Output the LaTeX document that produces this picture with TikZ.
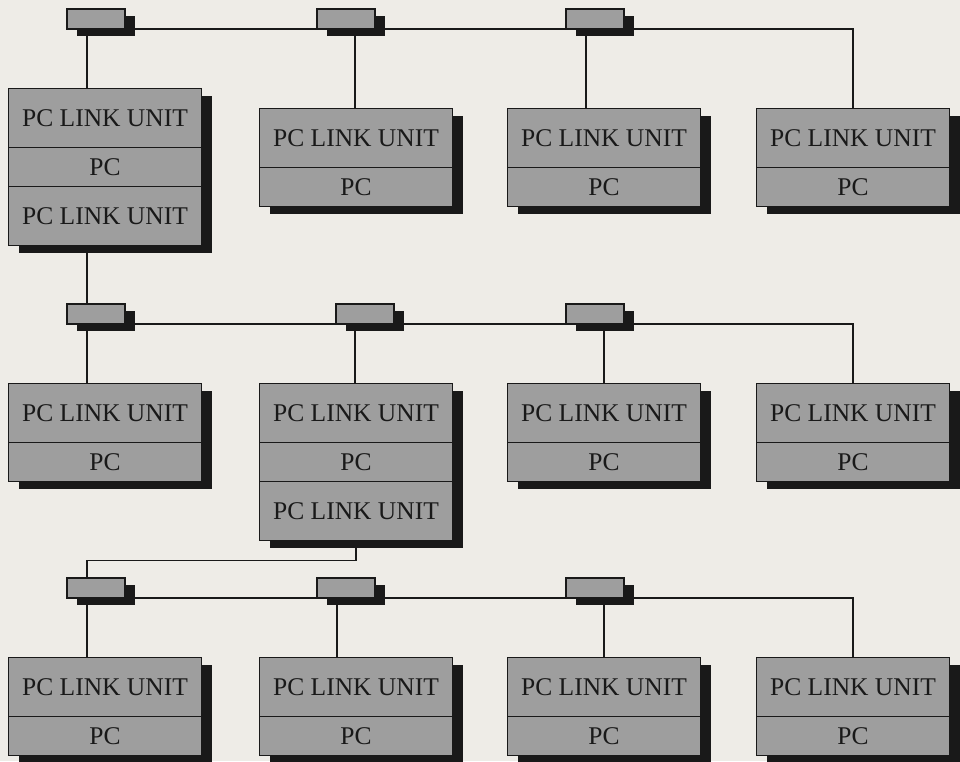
\documentclass[tikz,border=0pt]{standalone}
\usepackage{fontspec}
\setmainfont{Liberation Serif}
\usepackage{tikz}
\usetikzlibrary{positioning,shadows}

\definecolor{paper}{RGB}{238,236,231}
\definecolor{unitgray}{RGB}{158,158,158}

\begin{document}
\begin{tikzpicture}[
  x=1pt, y=-1pt,
  every node/.style={font=\fontsize{25.5}{28}\selectfont, text=black!90},
  linkpart/.style={
    rectangle, draw=black!90, fill=unitgray, line width=1.8pt,
    minimum width=193pt, minimum height=59pt, inner sep=0pt, outer sep=0pt,
    drop shadow={shadow xshift=10pt, shadow yshift=-7pt, fill=black!90, opacity=1}
  },
  pcpart/.style={
    linkpart, minimum height=39pt
  },
  tapbox/.style={
    rectangle, draw=black!90, fill=unitgray, line width=1.8pt,
    minimum width=58pt, minimum height=20pt, inner sep=0pt, outer sep=0pt,
    drop shadow={shadow xshift=10pt, shadow yshift=-7pt, fill=black!90, opacity=1}
  },
  bus/.style={line width=1.9pt, black!90},
]

% --- Paper ---
\fill[paper] (0,0) rectangle (960,761);
\useasboundingbox (0,0) rectangle (960,761);

% --- Row 1 ---
\node[linkpart] (b11t) at (105,118) {PC LINK UNIT};
\node[pcpart, below=0pt of b11t] (b11p) {PC};
\node[linkpart, below=0pt of b11p] (b11b) {PC LINK UNIT};

\node[linkpart] (b12t) at (356,138) {PC LINK UNIT};
\node[pcpart, below=0pt of b12t] (b12p) {PC};

\node[linkpart] (b13t) at (604,138) {PC LINK UNIT};
\node[pcpart, below=0pt of b13t] (b13p) {PC};

\node[linkpart] (b14t) at (853,138) {PC LINK UNIT};
\node[pcpart, below=0pt of b14t] (b14p) {PC};

\node[tapbox] (tap11) at (96,19) {};
\node[tapbox] (tap12) at (346,19) {};
\node[tapbox] (tap13) at (595,19) {};

% --- Row 2 ---
\node[linkpart] (b21t) at (105,413) {PC LINK UNIT};
\node[pcpart, below=0pt of b21t] (b21p) {PC};

\node[linkpart] (b22t) at (356,413) {PC LINK UNIT};
\node[pcpart, below=0pt of b22t] (b22p) {PC};
\node[linkpart, below=0pt of b22p] (b22b) {PC LINK UNIT};

\node[linkpart] (b23t) at (604,413) {PC LINK UNIT};
\node[pcpart, below=0pt of b23t] (b23p) {PC};

\node[linkpart] (b24t) at (853,413) {PC LINK UNIT};
\node[pcpart, below=0pt of b24t] (b24p) {PC};

\node[tapbox] (tap21) at (96,314) {};
\node[tapbox] (tap22) at (365,314) {};
\node[tapbox] (tap23) at (595,314) {};

% --- Row 3 ---
\node[linkpart] (b31t) at (105,687) {PC LINK UNIT};
\node[pcpart, below=0pt of b31t] (b31p) {PC};

\node[linkpart] (b32t) at (356,687) {PC LINK UNIT};
\node[pcpart, below=0pt of b32t] (b32p) {PC};

\node[linkpart] (b33t) at (604,687) {PC LINK UNIT};
\node[pcpart, below=0pt of b33t] (b33p) {PC};

\node[linkpart] (b34t) at (853,687) {PC LINK UNIT};
\node[pcpart, below=0pt of b34t] (b34p) {PC};

\node[tapbox] (tap31) at (96,588) {};
\node[tapbox] (tap32) at (346,588) {};
\node[tapbox] (tap33) at (595,588) {};

% --- Drop points under the taps ---
\coordinate (d11) at ([xshift=20pt]tap11.south west);
\coordinate (d12) at ([xshift=38pt]tap12.south west);
\coordinate (d13) at ([xshift=20pt]tap13.south west);
\coordinate (d21) at ([xshift=20pt]tap21.south west);
\coordinate (d22) at ([xshift=19pt]tap22.south west);
\coordinate (d23) at ([xshift=38pt]tap23.south west);
\coordinate (d31) at ([xshift=20pt]tap31.south west);
\coordinate (d32) at ([xshift=20pt]tap32.south west);
\coordinate (d33) at ([xshift=38pt]tap33.south west);

% --- Bus lines ---
\draw[bus] (tap11.south east) -- (tap12.south west);
\draw[bus] (tap12.south east) -- (tap13.south west);
\draw[bus] (tap13.south east) -| (b14t.north);

\draw[bus] (tap21.south east) -- (tap22.south west);
\draw[bus] (tap22.south east) -- (tap23.south west);
\draw[bus] (tap23.south east) -| (b24t.north);

\draw[bus] (tap31.south east) -- (tap32.south west);
\draw[bus] (tap32.south east) -- (tap33.south west);
\draw[bus] (tap33.south east) -| (b34t.north);

% --- Drops from taps to units ---
\draw[bus] (d11) -- (d11 |- b11t.north);
\draw[bus] (d12) -- (d12 |- b12t.north);
\draw[bus] (d13) -- (d13 |- b13t.north);
\draw[bus] (d21) -- (d21 |- b21t.north);
\draw[bus] (d22) -- (d22 |- b22t.north);
\draw[bus] (d23) -- (d23 |- b23t.north);
\draw[bus] (d31) -- (d31 |- b31t.north);
\draw[bus] (d32) -- (d32 |- b32t.north);
\draw[bus] (d33) -- (d33 |- b33t.north);

% --- Bridges between the networks ---
\draw[bus] (b11b.south -| d11) -- (d11 |- tap21.north);
\draw[bus] (b22b.south) -- ++(0,20) -| (d31 |- tap31.north);

\end{tikzpicture}
\end{document}
